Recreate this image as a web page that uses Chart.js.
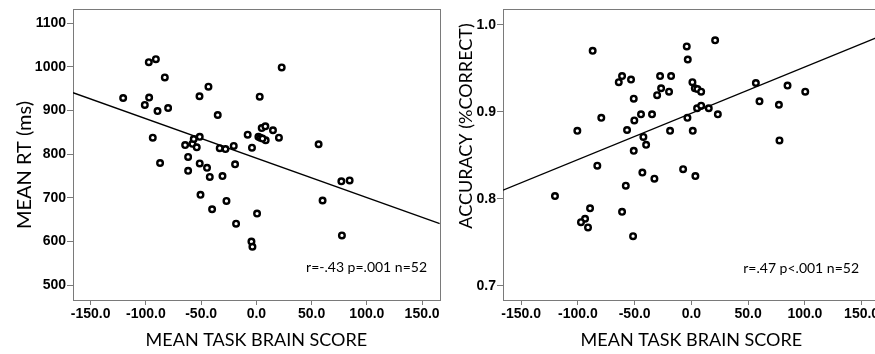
<!DOCTYPE html>
<html><head><meta charset="utf-8">
<script src="https://cdn.jsdelivr.net/npm/chart.js@4/dist/chart.umd.min.js"></script>
<style>
html,body{margin:0;padding:0;background:#fff;overflow:hidden;width:875px;height:354px;}
#cL{position:absolute;left:0;top:0;}
#cR{position:absolute;left:445px;top:0;}
</style></head><body>
<canvas id="cL" width="445" height="354"></canvas>
<canvas id="cR" width="440" height="354"></canvas>
<script>
// ---- data ----
const brainScoreRT = [-120.6,-97.4,-91.0,-82.9,-97.1,-101,-89.5,-79.9,-93.8,-51.5,-43.4,-35,-64.5,-57.9,-56.7,-51.3,-54,-61.8,-33.2,-28,-20.5,-4,-7.9,3,22.9,4.8,8.1,15,1.8,3.6,8.4,5.5,20.4,56.3,-87.2,-61.8,-51.3,-44.7,-42.2,-30.7,-19.3,-50.6,-27.1,-40.1,-18.4,0.6,-4.5,-3.6,59.9,76.9,84.4,77.4];
const meanRT = [929,1011,1018,976,930,913,899,906,838,933,955,890,821,824,835,840,816,794,814,812,819,815,845,932,999,860,864,855,840,838,832,836,838,823,780,762,779,769,748,750,777,707,693,674,641,664,600,588,694,738,740,614];
const brainScoreAcc = [-87,-100.5,-79.4,-64,-61.1,-53.2,-50.8,-50.3,-44.4,-56.7,-42.3,-39.9,-50.8,-34.7,-30.2,-26.7,-27.6,-19.7,-17.9,-18.8,-4.1,-3.2,-3.5,0.9,3,5.3,8.6,1.2,5,8.6,15.3,20.9,23.3,56.8,60,84.7,77.1,100.3,77.6,-82.9,-120.2,-43.2,-32.6,-57.8,-7.3,3.5,-89.3,-61.1,-93.7,-97.3,-91.1,-51.4];
const accuracy = [0.970,0.878,0.893,0.934,0.941,0.937,0.915,0.890,0.897,0.879,0.871,0.862,0.855,0.897,0.919,0.927,0.941,0.923,0.941,0.878,0.975,0.960,0.893,0.934,0.927,0.926,0.923,0.878,0.904,0.907,0.904,0.982,0.897,0.933,0.912,0.930,0.908,0.923,0.867,0.838,0.803,0.830,0.823,0.815,0.834,0.826,0.789,0.785,0.777,0.773,0.767,0.757];
// fit lines (end points)
const fitX = [-166, 166];
const fitRT = [941, 641];
const fitAcc = [0.8098, 0.9867];
// tick labels
const xTicks = [-150,-100,-50,0,50,100,150];
const rtTicks = [500,600,700,800,900,1000,1100];
const accTicks = [0.7,0.8,0.9,1.0];
const xTitle = 'MEAN TASK BRAIN SCORE';
const rtTitle = 'MEAN RT (ms)';
const accTitle = 'ACCURACY (%CORRECT)';
const rtStats = 'r=-.43 p=.001 n=52';
const accStats = 'r=.47 p<.001 n=52';

// ---- styling ----
const AXIS = '#7a7a7a';
const TICKFONT = {family:"'Liberation Sans Narrow','Liberation Sans',Arial,sans-serif", size:14, weight:'bold'};
const TITLEFONT = "Lato, 'Noto Sans', sans-serif";

const framePlugin = {
  id:'frame',
  beforeDatasetsDraw(chart){
    const {ctx, chartArea:a} = chart;
    ctx.save(); ctx.strokeStyle = AXIS; ctx.lineWidth = 1;
    ctx.strokeRect(Math.round(a.left)+0.5, Math.round(a.top)+0.5, Math.round(a.right-a.left), Math.round(a.bottom-a.top));
    ctx.restore();
  }
};
const textPlugin = {
  id:'texts',
  afterDraw(chart, args, o){
    const ctx = chart.ctx;
    ctx.save();
    ctx.fillStyle = '#000';
    // y title
    ctx.save();
    ctx.translate(o.yTitleX, o.yTitleY);
    ctx.rotate(-Math.PI/2);
    ctx.font = o.yTitleSize + 'px ' + TITLEFONT;
    ctx.textAlign = 'center'; ctx.textBaseline = 'middle';
    ctx.fillText(o.yTitle, 0, 0);
    ctx.restore();
    // stats
    ctx.font = o.statsSize + 'px ' + TITLEFONT;
    ctx.textAlign = 'right'; ctx.textBaseline = 'middle';
    ctx.fillText(o.stats, o.statsX, o.statsY);
    ctx.restore();
  }
};

function pts(xs, ys){ return xs.map((x,i)=>({x:x, y:ys[i]})); }

function makeChart(id, xs, ys, fy, yMin, yMax, yTicks, yFmt, yAxisW, padRight, texts){
  return new Chart(document.getElementById(id), {
    data:{ datasets:[
      { type:'scatter', data:pts(xs, ys), pointRadius:2.8, pointHoverRadius:2.8, borderWidth:2.4,
        borderColor:'#000', backgroundColor:'#fff', pointBackgroundColor:'#fff', order:1 },
      { type:'line', data:pts(fitX, fy), borderColor:'#000', borderWidth:1.4, pointRadius:0, fill:false, order:2 }
    ]},
    options:{
      responsive:false, animation:false, devicePixelRatio:1,
      layout:{padding:{left:0, top:9, right:padRight, bottom:0}},
      plugins:{ legend:{display:false}, tooltip:{enabled:false}, texts:texts },
      scales:{
        x:{ type:'linear', min:-166, max:166,
          afterBuildTicks:s=>{ s.ticks = xTicks.map(v=>({value:v})); },
          afterFit:s=>{ s.height = 54; },
          grid:{display:true, drawOnChartArea:false, drawTicks:true, tickLength:5, color:AXIS},
          border:{display:true, color:AXIS},
          ticks:{ font:TICKFONT, color:'#000', padding:1, maxRotation:0, autoSkip:false, callback:v=>v.toFixed(1) },
          title:{ display:true, text:xTitle, color:'#000', font:{family:TITLEFONT, size:18}, padding:{top:0,bottom:3} }
        },
        y:{ type:'linear', min:yMin, max:yMax,
          afterBuildTicks:s=>{ s.ticks = yTicks.map(v=>({value:v})); },
          afterFit:s=>{ s.width = yAxisW; },
          grid:{display:true, drawOnChartArea:false, drawTicks:true, tickLength:6, color:AXIS},
          border:{display:true, color:AXIS},
          ticks:{ font:TICKFONT, color:'#000', padding:1, callback:yFmt }
        }
      }
    },
    plugins:[framePlugin, textPlugin]
  });
}

makeChart('cL', brainScoreRT, meanRT, fitRT, 466, 1132, rtTicks, v=>String(v), 73, 5,
  {yTitle:rtTitle, yTitleX:25, yTitleY:165, yTitleSize:20, stats:rtStats, statsX:427, statsY:267, statsSize:14});
makeChart('cR', brainScoreAcc, accuracy, fitAcc, 0.6836, 1.0176, accTicks, v=>v.toFixed(1), 58, 5,
  {yTitle:accTitle, yTitleX:21, yTitleY:126, yTitleSize:18, stats:accStats, statsX:414, statsY:268, statsSize:14});
</script>
</body></html>
